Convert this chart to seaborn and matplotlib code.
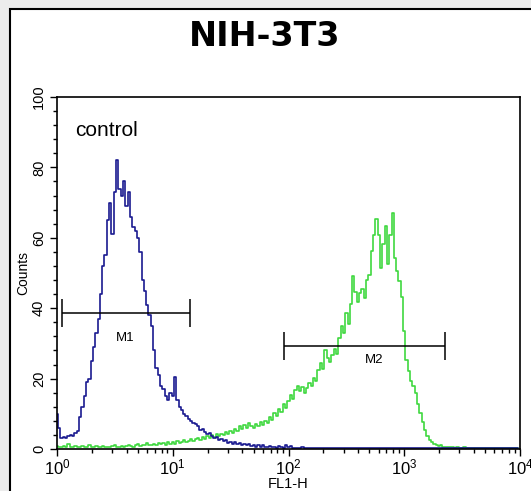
import numpy as np
import pandas as pd
import matplotlib
matplotlib.use("Agg")
import matplotlib.pyplot as plt
import seaborn as sns
from matplotlib.patches import Rectangle
from matplotlib.ticker import MultipleLocator, LogLocator

# ---- data ----
# 200 channels over 4 decades (0.02 decade per channel)
n_channels = 200
decades = 4

control_counts = [
    10.0, 6.0, 3.0, 3.5, 3.0, 3.8, 4.0, 3.6, 4.5, 5.0,
    9.0, 12.0, 15.0, 19.0, 20.0, 25.0, 29.0, 33.0, 37.0, 44.0,
    52.0, 55.0, 65.0, 70.0, 61.0, 73.0, 82.0, 74.0, 72.0, 76.0,
    69.0, 73.0, 66.0, 63.0, 62.0, 60.0, 56.0, 48.0, 45.0, 41.0,
    38.0, 35.0, 28.0, 23.0, 21.0, 18.0, 17.0, 15.0, 14.0, 16.0,
    15.0, 20.5, 14.0, 12.0, 11.0, 10.0, 9.5, 8.5, 8.0, 7.5,
    7.0, 6.5, 5.5, 5.8, 4.8, 4.2, 4.5, 3.6, 3.2, 3.5,
    2.6, 2.8, 2.2, 2.5, 1.8, 2.1, 1.5, 1.9, 1.3, 1.6,
    1.2, 1.5, 1.0, 1.3, 0.8, 1.2, 0.7, 1.0, 0.6, 1.1,
    0.6, 0.5, 0.9, 0.5, 0.6, 0.4, 0.8, 0.5, 0.4, 1.0,
    0.5, 0.8, 0.3, 0.4, 0.3, 0.3, 0.5, 0.3, 0.3, 0.3,
    0.3, 0.3, 0.3, 0.3, 0.3, 0.3, 0.3, 0.3, 0.3, 0.3,
    0.3, 0.3, 0.3, 0.3, 0.3, 0.3, 0.3, 0.3, 0.3, 0.3,
    0.3, 0.3, 0.3, 0.3, 0.3, 0.3, 0.3, 0.3, 0.3, 0.3,
    0.3, 0.3, 0.3, 0.3, 0.3, 0.3, 0.3, 0.3, 0.3, 0.3,
    0.3, 0.3, 0.3, 0.3, 0.3, 0.3, 0.3, 0.3, 0.3, 0.3,
    0.3, 0.3, 0.3, 0.3, 0.3, 0.3, 0.3, 0.3, 0.3, 0.3,
    0.3, 0.3, 0.3, 0.3, 0.3, 0.3, 0.3, 0.3, 0.3, 0.3,
    0.3, 0.3, 0.3, 0.3, 0.3, 0.3, 0.3, 0.3, 0.3, 0.3,
    0.3, 0.3, 0.3, 0.3, 0.3, 0.3, 0.3, 0.3, 0.3, 0.3,
]

sample_counts = [
    0.8, 0.6, 0.7, 0.9, 0.6, 1.4, 0.7, 0.6, 0.8, 0.7,
    0.6, 0.9, 0.7, 0.6, 1.2, 0.7, 0.6, 0.8, 0.6, 0.7,
    0.9, 0.6, 0.7, 0.6, 0.8, 1.0, 0.7, 0.6, 0.9, 0.7,
    0.8, 1.1, 0.9, 0.7, 1.0, 1.3, 0.9, 1.2, 1.0, 1.6,
    1.2, 1.0, 1.5, 1.1, 1.8, 1.3, 1.6, 1.2, 2.0, 1.5,
    1.9, 1.4, 2.2, 1.7, 2.1, 2.6, 1.9, 2.4, 2.8, 2.2,
    2.7, 3.1, 2.5, 3.4, 2.9, 3.6, 3.0, 3.9, 3.3, 4.2,
    3.6, 4.4, 3.9, 4.8, 4.3, 5.2, 4.6, 5.8, 5.1, 6.4,
    5.6, 6.8, 6.1, 7.3, 6.5, 6.0, 7.0, 6.4, 7.6, 6.8,
    8.0, 7.4, 9.1, 8.3, 10.2, 9.4, 11.5, 10.6, 12.8, 11.7,
    13.5, 15.2, 14.1, 16.8, 18.0, 16.5, 17.6, 15.9, 17.4, 18.8,
    17.9, 20.1, 19.2, 22.5, 24.3, 22.8, 28.2, 25.9, 24.7, 26.8,
    28.3, 27.1, 31.5, 34.9, 33.0, 38.7, 35.6, 41.3, 49.2, 44.6,
    41.8, 44.3, 45.4, 43.0, 47.9, 49.5, 56.3, 60.8, 65.4, 60.9,
    51.5, 58.2, 63.4, 52.6, 60.7, 67.1, 54.3, 50.6, 47.8, 43.2,
    33.6, 25.3, 22.1, 19.4, 17.8, 15.9, 12.8, 10.2, 7.6, 5.5,
    3.8, 2.6, 1.9, 1.4, 1.1, 0.8, 1.0, 0.7, 0.6, 0.5,
    0.6, 0.5, 0.4, 0.5, 0.4, 0.4, 0.5, 0.4, 0.4, 0.4,
    0.4, 0.4, 0.4, 0.4, 0.4, 0.4, 0.4, 0.4, 0.4, 0.4,
    0.4, 0.4, 0.4, 0.4, 0.4, 0.4, 0.4, 0.4, 0.4, 0.4,
]

# marker gates: name, left, right, height, label x, label y
gate_names = ["M1", "M2"]
gate_left = [1.1, 91.0]
gate_right = [14.1, 2240.0]
gate_level = [38.6, 29.3]
gate_label_x = [3.9, 550.0]
gate_label_y = [31.5, 25.3]

title = "NIH-3T3"
xlabel = "FL1-H"
ylabel = "Counts"

# ---- build frame ----
fl1 = 10 ** (np.arange(n_channels) * decades / n_channels)
df = pd.DataFrame({
    "FL1-H": np.concatenate([fl1, fl1]),
    "Counts": control_counts + sample_counts,
    "series": ["control"] * n_channels + ["sample"] * n_channels,
})

sns.set_style("ticks")
plt.rcParams["font.family"] = ["Liberation Sans", "DejaVu Sans"]
plt.rcParams["text.color"] = "black"
plt.rcParams["axes.labelcolor"] = "black"
plt.rcParams["xtick.color"] = "black"
plt.rcParams["ytick.color"] = "black"

fig = plt.figure(figsize=(5.31, 4.91), dpi=100, facecolor="#ececec")
fig.patches.append(Rectangle((10 / 531, -0.1), 1.2, 1 - 9 / 491 + 0.1,
                             transform=fig.transFigure, facecolor="white",
                             edgecolor="black", lw=1.5, zorder=-5))
ax = fig.add_axes([57 / 531, 1 - 449 / 491, 463 / 531, 352 / 491])
ax.set_facecolor("white")

sns.lineplot(data=df[df["series"] == "sample"], x="FL1-H", y="Counts",
             color="#3fd83f", lw=1.2, drawstyle="steps-mid",
             estimator=None, ax=ax)
sns.lineplot(data=df[df["series"] == "control"], x="FL1-H", y="Counts",
             color="#1a1a90", lw=1.2, drawstyle="steps-mid",
             estimator=None, ax=ax)

# gates
for name, l, r, lev, lx, ly in zip(gate_names, gate_left, gate_right,
                                   gate_level, gate_label_x, gate_label_y):
    ax.hlines(lev, l, r, color="black", lw=1.1)
    ax.vlines([l, r], lev - 4, lev + 4, color="black", lw=1.1)
    ax.text(lx, ly, name, ha="center", va="center", fontsize=9.5)

ax.text(1.43, 90.5, "control", ha="left", va="center", fontsize=15)

ax.set_xscale("log")
ax.set_xlim(1, 10 ** decades)
ax.set_ylim(0, 100)
ax.yaxis.set_major_locator(MultipleLocator(20))
ax.yaxis.set_minor_locator(MultipleLocator(4))
ax.xaxis.set_major_locator(LogLocator(base=10, numticks=10))
ax.xaxis.set_minor_locator(LogLocator(base=10, subs=np.arange(2, 10), numticks=10))
ax.tick_params(axis="both", which="both", direction="out", color="black", width=1.0)
ax.tick_params(axis="both", which="major", length=5)
ax.tick_params(axis="both", which="minor", length=3)
ax.tick_params(axis="x", labelsize=12, pad=1)
ax.tick_params(axis="y", labelsize=10.5, pad=3)
for lab in ax.get_yticklabels():
    lab.set_rotation(90)
    lab.set_va("center")

for sp in ax.spines.values():
    sp.set_visible(True)
    sp.set_color("black")
    sp.set_linewidth(1.2)

ax.set_xlabel(xlabel, fontsize=10.5, labelpad=0)
ax.set_ylabel(ylabel, fontsize=10, labelpad=1)
ax.grid(False)

fig.text(265 / 531, 1 - 37 / 491, title, ha="center", va="center",
         fontsize=24, fontweight="bold", family=["DejaVu Sans"])

fig.savefig("out.png", dpi=100, facecolor=fig.get_facecolor())
